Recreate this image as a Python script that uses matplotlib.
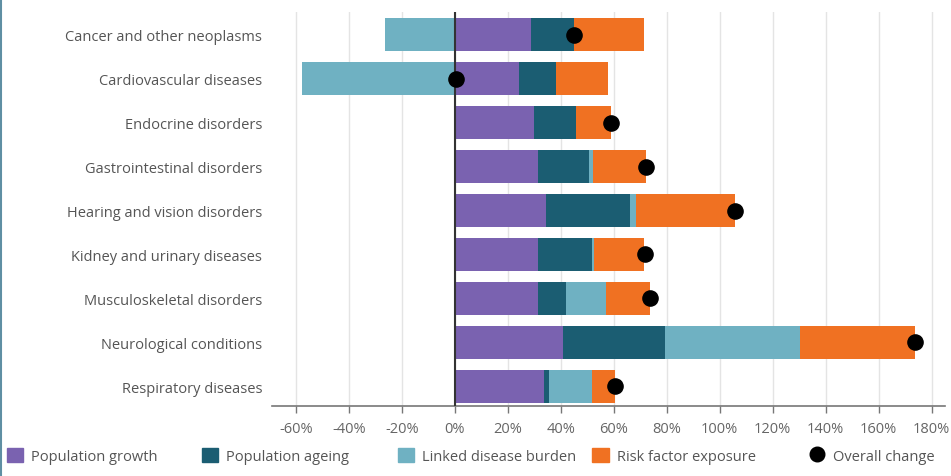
import numpy as np
import matplotlib.pyplot as plt
from matplotlib.lines import Line2D
from matplotlib.patches import Patch

plt.rcParams['font.family'] = ['Open Sans', 'DejaVu Sans']

categories = [
    "Cancer and other neoplasms",
    "Cardiovascular diseases",
    "Endocrine disorders",
    "Gastrointestinal disorders",
    "Hearing and vision disorders",
    "Kidney and urinary diseases",
    "Musculoskeletal disorders",
    "Neurological conditions",
    "Respiratory diseases",
]

# contributions to change, %
pop_growth = [28.6, 24.4, 30.0, 31.3, 34.5, 31.3, 31.3, 41.0, 33.6]
pop_ageing = [16.5, 13.7, 15.6, 19.4, 31.8, 20.4, 10.6, 38.2, 1.9]
linked_burden = [-26.4, -57.6, 0.0, 1.3, 2.0, 0.8, 15.1, 51.1, 16.1]
risk_factor = [26.3, 19.9, 13.4, 20.1, 37.6, 18.9, 16.7, 43.3, 8.7]
overall = [44.8, 0.5, 59.0, 72.0, 105.7, 71.6, 73.8, 173.5, 60.6]

series_names = ["Population growth", "Population ageing",
                "Linked disease burden", "Risk factor exposure"]
series_colors = ["#7a62b0", "#1b5d72", "#6fb1c2", "#f07122"]
xticks = np.arange(-60, 181, 20)

fig = plt.figure(figsize=(9.51, 4.77), dpi=100)
ax = fig.add_axes([0.286, 0.1468, 0.7077, 0.8259])

y = np.arange(len(categories))
pos_base = np.zeros(len(categories))
neg_base = np.zeros(len(categories))
for vals, col in zip([pop_growth, pop_ageing, linked_burden, risk_factor], series_colors):
    v = np.array(vals)
    left = np.where(v >= 0, pos_base, neg_base)
    ax.barh(y, v, left=left, height=0.75, color=col, zorder=2)
    pos_base = pos_base + np.clip(v, 0, None)
    neg_base = neg_base + np.clip(v, None, 0)

ax.scatter(overall, y, s=120, color="black", zorder=4)

ax.axvline(0, color="#333333", lw=1.5, zorder=3)
ax.set_xlim(-69, 185)
ax.set_ylim(len(categories) - 0.55, -0.52)
ax.set_xticks(xticks)
ax.set_xticklabels([f"{t}%" for t in xticks])
ax.set_yticks(y)
ax.set_yticklabels(categories)
ax.grid(axis="x", color="#e4e4e4", lw=1, zorder=0)
ax.tick_params(axis="y", length=0, pad=7, labelsize=10.5, labelcolor="#555555")
ax.tick_params(axis="x", length=5, width=1, color="#777777", pad=6,
               labelsize=10.5, labelcolor="#666666")
for s in ["top", "right", "left"]:
    ax.spines[s].set_visible(False)
ax.spines["bottom"].set_color("#777777")
ax.spines["bottom"].set_linewidth(1.2)

# legend, one entry per slot along the bottom
handles = [Patch(color=c) for c in series_colors]
handles.append(Line2D([], [], marker="o", color="black", ls="none", markersize=10.5))
labels = series_names + ["Overall change"]
slots = [0.007, 0.212, 0.418, 0.623, 0.851]
for h, lab, xs in zip(handles, labels, slots):
    lg = fig.legend([h], [lab], loc="center left", bbox_to_anchor=(xs, 0.042),
                    frameon=False, handlelength=1.1, handleheight=1.1,
                    handletextpad=0.55, borderpad=0, borderaxespad=0,
                    fontsize=10.5, labelcolor="#555555")

fig.add_artist(Line2D([0.001, 0.001], [0, 1], transform=fig.transFigure,
                      color="#5f8fa3", lw=1.5))

fig.savefig("out.png", dpi=100)
